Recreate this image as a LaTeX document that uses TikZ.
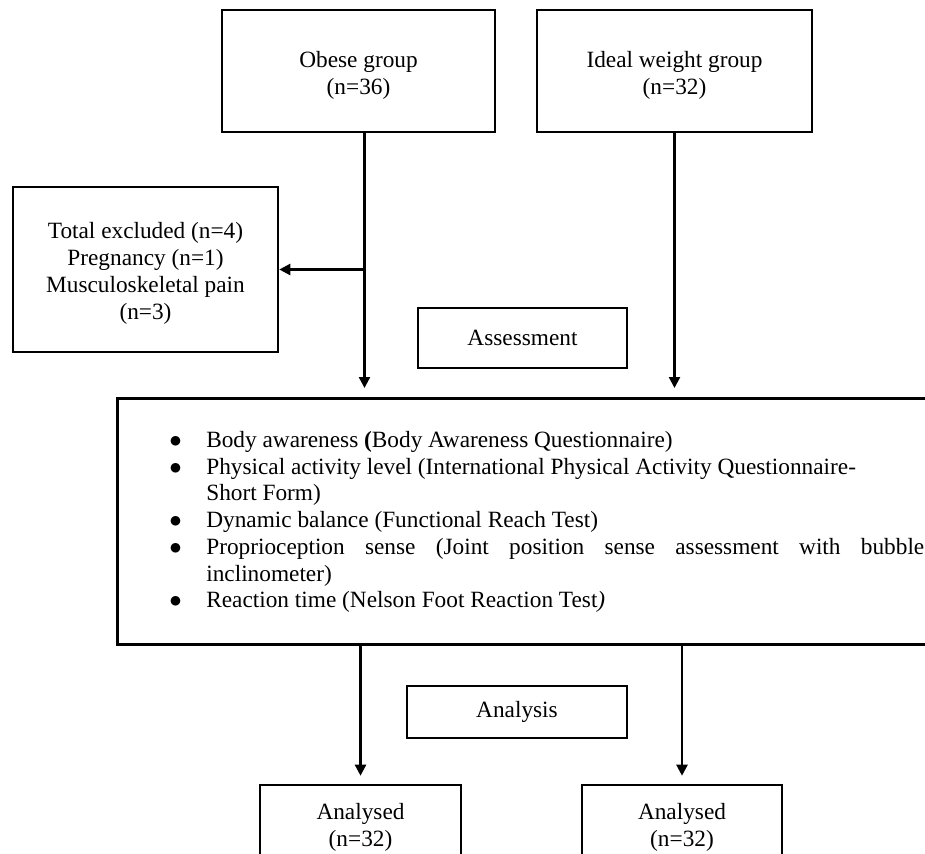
\documentclass[tikz,border=0pt]{standalone}
\usepackage{fontspec}
\setmainfont{Liberation Serif}
\usetikzlibrary{arrows.meta}
\newcommand{\flowfont}{\fontsize{23.3}{27}\selectfont}
\newcommand{\listfont}{\fontsize{23.3}{26.7}\selectfont}
\newcommand{\topstrut}{\rule{0pt}{24pt}}
\newcommand{\bitem}[1]{\par\noindent\hangindent=40pt\hangafter=1\makebox[40pt][l]{\hspace{3pt}$\bullet$}#1}

\begin{document}
\begin{tikzpicture}[x=1pt,y=-1pt,
  box/.style={draw,line width=2.6pt,align=center,font=\flowfont,inner sep=0pt},
  flow/.style={line width=2.4pt,-{Triangle[length=11pt,width=11pt]}}]
\path[use as bounding box] (0,0) rectangle (925,853);
\clip (0,0) rectangle (925,853);
\node[box,minimum width=273,minimum height=122] (obese) at (358.5,71) {\topstrut Obese group\\(n=36)};
\node[box,minimum width=275,minimum height=122] (ideal) at (674.5,71) {\topstrut Ideal weight group\\(n=32)};
\node[box,minimum width=265,minimum height=165] (excl) at (145.5,269.5) {\topstrut Total excluded (n=4)\\Pregnancy (n=1)\\Musculoskeletal pain\\(n=3)};
\node[box,minimum width=209,minimum height=60] (assess) at (522.5,338) {Assessment};
\node[box,anchor=north west,align=justify,font=\listfont,minimum height=246,text width=758,text depth=201pt,inner xsep=49] (big) at (116,397) {%
\bitem{Body awareness \textbf{(}Body Awareness Questionnaire)}
\bitem{Physical activity level (International Physical Activity Questionnaire-\newline Short Form)}
\bitem{Dynamic balance (Functional Reach Test)}
\bitem{Proprioception sense (Joint position sense assessment with bubble\linebreak inclinometer)}
\bitem{Reaction time (Nelson Foot Reaction Test\textit{)}}};
\node[box,minimum width=220,minimum height=52] (analysis) at (517,712) {Analysis};
\node[box,minimum width=201,minimum height=84] (anl1) at (360.5,827) {Analysed\\(n=32)};
\node[box,minimum width=200,minimum height=84] (anl2) at (682,827) {Analysed\\(n=32)};
\coordinate (obesefoot) at ([xshift=6]obese.south);
\draw[flow,shorten >=9pt] (obesefoot) -- (obesefoot |- big.north);
\draw[flow,shorten >=9pt] (ideal.south) -- (ideal.south |- big.north);
\draw[flow] (obesefoot |- excl.east) -- (excl.east);
\draw[flow,shorten >=8pt] (anl1.north |- big.south) -- (anl1.north);
\draw[flow,shorten >=8pt] (anl2.north |- big.south) -- (anl2.north);
\end{tikzpicture}
\end{document}
